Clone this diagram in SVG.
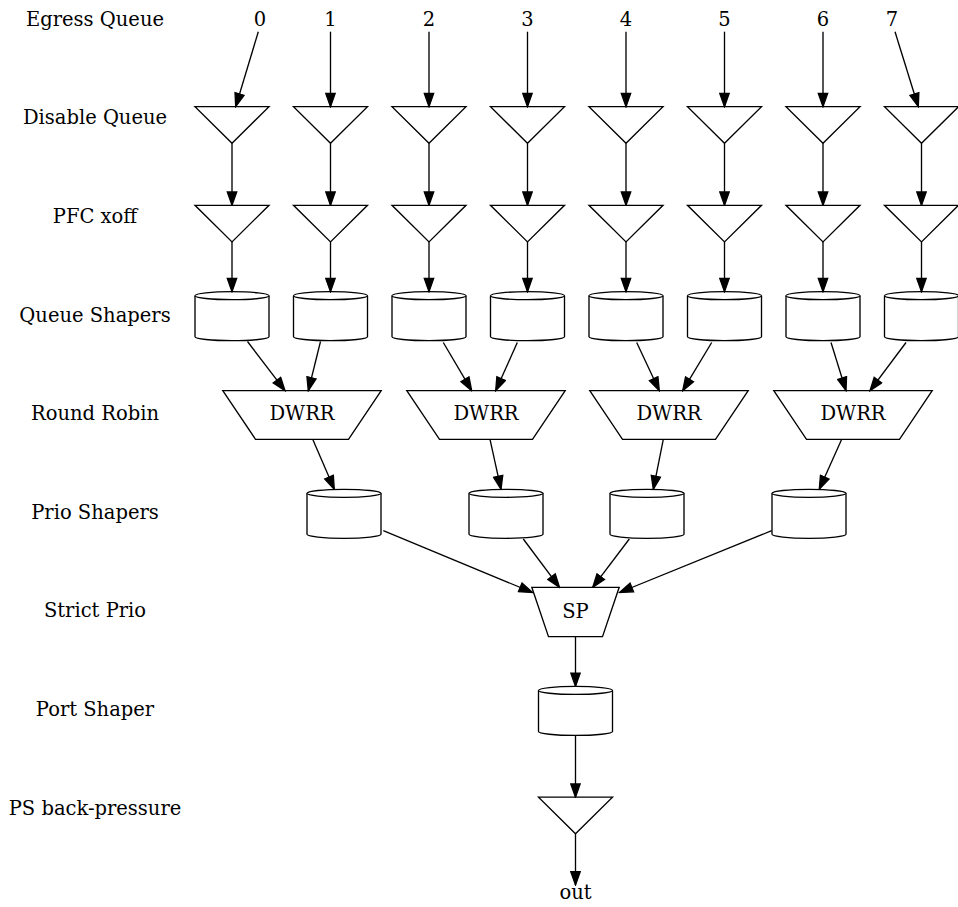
<svg xmlns="http://www.w3.org/2000/svg" width="958" height="907" viewBox="0 0 958 907">
  <style>
    text { font-family: "DejaVu Serif", "Liberation Serif", serif; font-size: 19.5px; fill: #000; text-anchor: middle; }
    .shape { fill: #fff; stroke: #000; stroke-width: 1.33; }
    .edge { fill: none; stroke: #000; stroke-width: 1.33; marker-end: url(#head); }
  </style>
  <defs>
    <marker id="head" markerUnits="userSpaceOnUse" viewBox="-1 -1 15.3 11.4" refX="13.3" refY="4.7" markerWidth="15.3" markerHeight="11.4" orient="auto">
      <path d="M0,0 L13.3,4.7 L0,9.4 Z" fill="#000" stroke="#000" stroke-width="1.33"/>
    </marker>
    <!-- shapes drawn around their own top-centre point -->
    <path id="tri" class="shape" d="M-37,0 L37,0 L0,36.6 Z"/>
    <g id="cyl">
      <path class="shape" d="M-37,4 A37,4 0 0 1 37,4 L37,45 A37,4 0 0 1 -37,45 Z"/>
      <path class="shape" fill="none" d="M-37,4 A37,4 0 0 0 37,4"/>
    </g>
    <path id="dwrr" class="shape" d="M-79.2,0 L79.2,0 L46.5,48.6 L-46.5,48.6 Z"/>
  </defs>

  <!-- row titles -->
  <g id="row-labels">
    <text x="95" y="25.7">Egress Queue</text>
    <text x="95" y="124.3">Disable Queue</text>
    <text x="95" y="222.9">PFC xoff</text>
    <text x="95" y="321.5">Queue Shapers</text>
    <text x="95" y="420.1">Round Robin</text>
    <text x="95" y="518.7">Prio Shapers</text>
    <text x="95" y="617.3">Strict Prio</text>
    <text x="95" y="715.9">Port Shaper</text>
    <text x="95" y="814.5">PS back-pressure</text>
  </g>

  <!-- egress queue numbers -->
  <g id="q0"><text x="260" y="25.7">0</text></g>
  <g id="q1"><text x="330.5" y="25.7">1</text></g>
  <g id="q2"><text x="429" y="25.7">2</text></g>
  <g id="q3"><text x="527.5" y="25.7">3</text></g>
  <g id="q4"><text x="626" y="25.7">4</text></g>
  <g id="q5"><text x="724.5" y="25.7">5</text></g>
  <g id="q6"><text x="823" y="25.7">6</text></g>
  <g id="q7"><text x="892" y="25.7">7</text></g>

  <!-- disable queue gates -->
  <g id="dis0"><use href="#tri" x="232" y="106.7"/></g>
  <g id="dis1"><use href="#tri" x="330.5" y="106.7"/></g>
  <g id="dis2"><use href="#tri" x="429" y="106.7"/></g>
  <g id="dis3"><use href="#tri" x="527.5" y="106.7"/></g>
  <g id="dis4"><use href="#tri" x="626" y="106.7"/></g>
  <g id="dis5"><use href="#tri" x="724.5" y="106.7"/></g>
  <g id="dis6"><use href="#tri" x="823" y="106.7"/></g>
  <g id="dis7"><use href="#tri" x="921.5" y="106.7"/></g>

  <!-- PFC xoff gates -->
  <g id="pfc0"><use href="#tri" x="232" y="205.3"/></g>
  <g id="pfc1"><use href="#tri" x="330.5" y="205.3"/></g>
  <g id="pfc2"><use href="#tri" x="429" y="205.3"/></g>
  <g id="pfc3"><use href="#tri" x="527.5" y="205.3"/></g>
  <g id="pfc4"><use href="#tri" x="626" y="205.3"/></g>
  <g id="pfc5"><use href="#tri" x="724.5" y="205.3"/></g>
  <g id="pfc6"><use href="#tri" x="823" y="205.3"/></g>
  <g id="pfc7"><use href="#tri" x="921.5" y="205.3"/></g>

  <!-- queue shapers -->
  <g id="qs0"><use href="#cyl" x="232" y="291.7"/></g>
  <g id="qs1"><use href="#cyl" x="330.5" y="291.7"/></g>
  <g id="qs2"><use href="#cyl" x="429" y="291.7"/></g>
  <g id="qs3"><use href="#cyl" x="527.5" y="291.7"/></g>
  <g id="qs4"><use href="#cyl" x="626" y="291.7"/></g>
  <g id="qs5"><use href="#cyl" x="724.5" y="291.7"/></g>
  <g id="qs6"><use href="#cyl" x="823" y="291.7"/></g>
  <g id="qs7"><use href="#cyl" x="921.5" y="291.7"/></g>

  <!-- round robin schedulers -->
  <g id="rr0"><use href="#dwrr" x="302" y="390.7"/><text x="302" y="420">DWRR</text></g>
  <g id="rr1"><use href="#dwrr" x="486" y="390.7"/><text x="486" y="420">DWRR</text></g>
  <g id="rr2"><use href="#dwrr" x="669" y="390.7"/><text x="669" y="420">DWRR</text></g>
  <g id="rr3"><use href="#dwrr" x="853" y="390.7"/><text x="853" y="420">DWRR</text></g>

  <!-- priority shapers -->
  <g id="ps0"><use href="#cyl" x="344" y="489.3"/></g>
  <g id="ps1"><use href="#cyl" x="506" y="489.3"/></g>
  <g id="ps2"><use href="#cyl" x="647" y="489.3"/></g>
  <g id="ps3"><use href="#cyl" x="809" y="489.3"/></g>

  <!-- strict priority -->
  <g id="sp">
    <path class="shape" d="M531.8,587.3 L619.2,587.3 L602.5,636.7 L548.5,636.7 Z"/>
    <text x="575.5" y="618.3">SP</text>
  </g>

  <!-- port shaper -->
  <g id="port"><use href="#cyl" x="575.5" y="686.4"/></g>

  <!-- port shaper back-pressure -->
  <g id="bp"><use href="#tri" x="575.5" y="797.2"/></g>

  <g id="out"><text x="575.5" y="899">out</text></g>

  <g id="edges">
    <!-- numbers to disable gates -->
    <path class="edge" d="M258.3,31.7 L235.7,106.7"/>
    <path class="edge" d="M330.5,31.7 L330.5,106.7"/>
    <path class="edge" d="M429,31.7 L429,106.7"/>
    <path class="edge" d="M527.5,31.7 L527.5,106.7"/>
    <path class="edge" d="M626,31.7 L626,106.7"/>
    <path class="edge" d="M724.5,31.7 L724.5,106.7"/>
    <path class="edge" d="M823,31.7 L823,106.7"/>
    <path class="edge" d="M895,31.7 L918.3,106.7"/>
    <!-- disable gates to PFC gates -->
    <path class="edge" d="M232,143.3 L232,205.3"/>
    <path class="edge" d="M330.5,143.3 L330.5,205.3"/>
    <path class="edge" d="M429,143.3 L429,205.3"/>
    <path class="edge" d="M527.5,143.3 L527.5,205.3"/>
    <path class="edge" d="M626,143.3 L626,205.3"/>
    <path class="edge" d="M724.5,143.3 L724.5,205.3"/>
    <path class="edge" d="M823,143.3 L823,205.3"/>
    <path class="edge" d="M921.5,143.3 L921.5,205.3"/>
    <!-- PFC gates to queue shapers -->
    <path class="edge" d="M232,241.9 L232,291.7"/>
    <path class="edge" d="M330.5,241.9 L330.5,291.7"/>
    <path class="edge" d="M429,241.9 L429,291.7"/>
    <path class="edge" d="M527.5,241.9 L527.5,291.7"/>
    <path class="edge" d="M626,241.9 L626,291.7"/>
    <path class="edge" d="M724.5,241.9 L724.5,291.7"/>
    <path class="edge" d="M823,241.9 L823,291.7"/>
    <path class="edge" d="M921.5,241.9 L921.5,291.7"/>
    <!-- queue shapers to DWRR -->
    <path class="edge" d="M247.5,341.5 L285,390.7"/>
    <path class="edge" d="M320.5,341.5 L308.3,390.7"/>
    <path class="edge" d="M443.3,342.5 L471.7,390.7"/>
    <path class="edge" d="M517.3,342.5 L495.7,390.7"/>
    <path class="edge" d="M636.7,342.5 L659.3,390.7"/>
    <path class="edge" d="M711.7,342.5 L682.7,390.7"/>
    <path class="edge" d="M831,342.5 L846,390.7"/>
    <path class="edge" d="M906,342.5 L870,390.7"/>
    <!-- DWRR to priority shapers -->
    <path class="edge" d="M312.7,439.3 L334.3,489.3"/>
    <path class="edge" d="M490,439.3 L501,489.3"/>
    <path class="edge" d="M663.3,439.3 L653.3,489.3"/>
    <path class="edge" d="M841.7,439.3 L819.3,489.3"/>
    <!-- priority shapers to SP -->
    <path class="edge" d="M383.3,530.7 L532.5,592.5"/>
    <path class="edge" d="M523.3,539 L559.5,587.3"/>
    <path class="edge" d="M629.3,539 L592.7,587.3"/>
    <path class="edge" d="M771.7,530.7 L619.5,592.5"/>
    <!-- output chain -->
    <path class="edge" d="M575.5,636.7 L575.5,686.4"/>
    <path class="edge" d="M575.5,735.4 L575.5,797.2"/>
    <path class="edge" d="M575.5,833.8 L575.5,885"/>
  </g>
</svg>
